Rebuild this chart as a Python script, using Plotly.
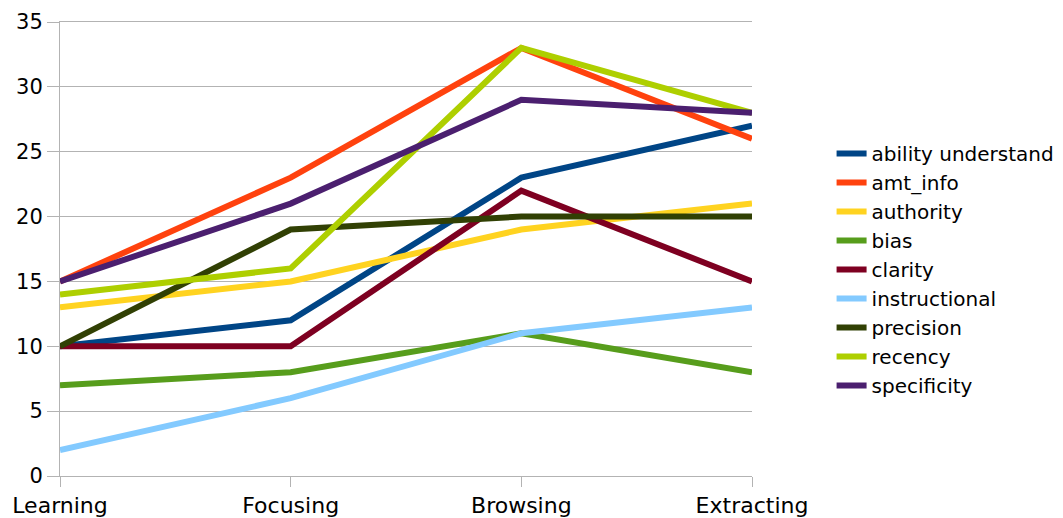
import plotly.graph_objects as go

stages = ["Learning", "Focusing", "Browsing", "Extracting"]

ability_understand = [10, 12, 23, 27]
amt_info = [15, 23, 33, 26]
authority = [13, 15, 19, 21]
bias = [7, 8, 11, 8]
clarity = [10, 10, 22, 15]
instructional = [2, 6, 11, 13]
precision = [10, 19, 20, 20]
recency = [14, 16, 33, 28]
specificity = [15, 21, 29, 28]

series = [
    ("ability understand", ability_understand, "#004586"),
    ("amt_info", amt_info, "#ff420e"),
    ("authority", authority, "#ffd320"),
    ("bias", bias, "#579d1c"),
    ("clarity", clarity, "#7e0021"),
    ("instructional", instructional, "#83caff"),
    ("precision", precision, "#314004"),
    ("recency", recency, "#aecf00"),
    ("specificity", specificity, "#4b1f6f"),
]

x_pos = list(range(len(stages)))

fig = go.Figure()
for name, vals, color in series:
    fig.add_trace(go.Scatter(
        x=x_pos, y=vals, name=name, mode="lines",
        line=dict(color=color, width=6),
    ))

fig.update_layout(
    width=1063, height=518,
    margin=dict(l=60, r=311, t=22, b=42, autoexpand=False),
    paper_bgcolor="white", plot_bgcolor="white",
    font=dict(family="DejaVu Sans, sans-serif", color="#000000"),
    legend=dict(
        x=1.115, y=0.455, xanchor="left", yanchor="middle",
        font=dict(size=20), tracegroupgap=0, itemwidth=30,
        bgcolor="rgba(0,0,0,0)",
    ),
    showlegend=True,
)

fig.update_xaxes(
    range=[0, 3], tickvals=x_pos, ticktext=stages,
    showgrid=False, zeroline=False, automargin=False,
    showline=True, linecolor="#b3b3b3", linewidth=1, mirror=True,
    ticks="outside", ticklen=10, tickcolor="#b3b3b3",
    tickfont=dict(size=22),
)
fig.update_yaxes(
    range=[0, 35], dtick=5, automargin=False,
    showgrid=True, gridcolor="#b3b3b3", gridwidth=1,
    zeroline=False,
    showline=True, linecolor="#b3b3b3", linewidth=1,
    ticks="outside", ticklen=12, tickcolor="#b3b3b3",
    tickfont=dict(size=21),
)

fig.write_html("out.html")
